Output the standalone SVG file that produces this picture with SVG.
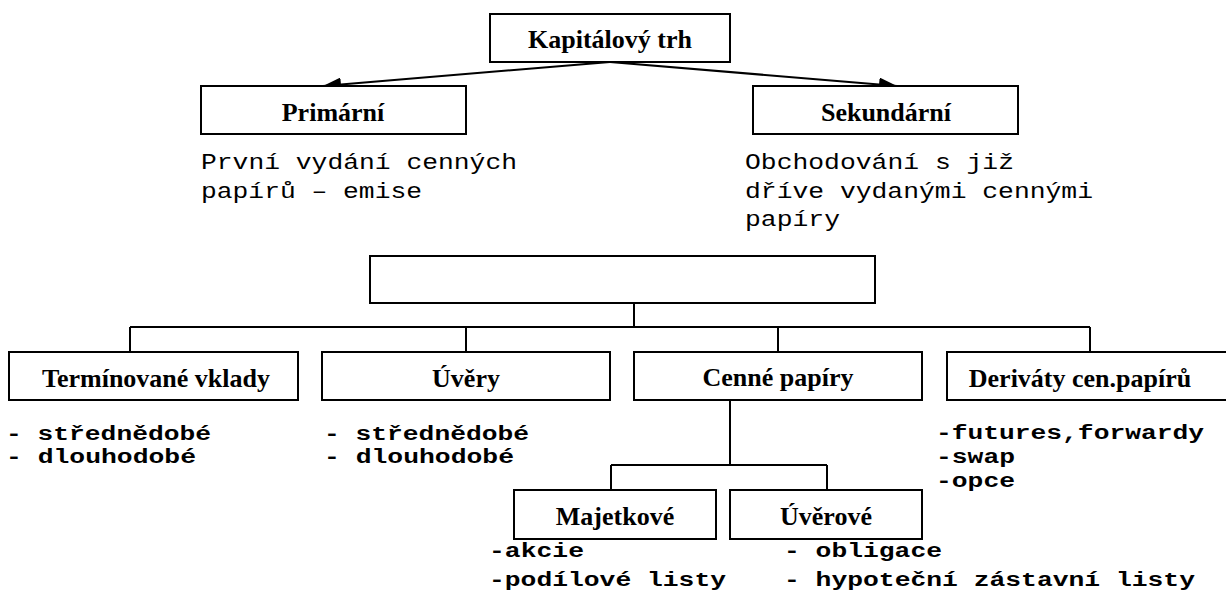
<svg xmlns="http://www.w3.org/2000/svg" width="1226" height="594" viewBox="0 0 1226 594">
<style>
.box{fill:#fff;stroke:#000;stroke-width:2}
.lbl{font-family:"Liberation Serif","Times New Roman",serif;font-weight:bold;font-size:26px;fill:#000;text-anchor:middle}
.desc{font-family:"Liberation Mono","Courier New",monospace;font-size:22px;fill:#000}
.bul{font-family:"Liberation Mono","Courier New",monospace;font-weight:bold;font-size:20px;fill:#000}
.con{fill:none;stroke:#000;stroke-width:2}
</style>
<defs>
<marker id="arr" markerUnits="userSpaceOnUse" markerWidth="20" markerHeight="14" refX="18" refY="7" orient="auto">
<path d="M0,0 L18,7 L0,14 Z" fill="#000"/>
</marker>
</defs>
<rect width="1226" height="594" fill="#fff"/>
<g id="connectors">
<line class="con" x1="610" y1="62" x2="323" y2="86" marker-end="url(#arr)"/>
<line class="con" x1="610" y1="62" x2="897" y2="86" marker-end="url(#arr)"/>
<line class="con" x1="634" y1="303" x2="634" y2="327"/>
<line class="con" x1="130" y1="327" x2="1090" y2="327"/>
<line class="con" x1="130" y1="327" x2="130" y2="352"/>
<line class="con" x1="466" y1="327" x2="466" y2="352"/>
<line class="con" x1="778" y1="327" x2="778" y2="352"/>
<line class="con" x1="1090" y1="327" x2="1090" y2="352"/>
<line class="con" x1="730" y1="400" x2="730" y2="465"/>
<line class="con" x1="611" y1="465" x2="827" y2="465"/>
<line class="con" x1="611" y1="465" x2="611" y2="490"/>
<line class="con" x1="827" y1="465" x2="827" y2="490"/>
</g>
<g id="kapitalovy">
<rect class="box" x="490" y="14" width="240" height="48"/>
<text class="lbl" x="610" y="48">Kapitálový trh</text>
</g>
<g id="primarni">
<rect class="box" x="201" y="86" width="265" height="48"/>
<text class="lbl" x="333" y="121">Primární</text>
<text class="desc" x="201" y="169" textLength="316" lengthAdjust="spacingAndGlyphs">První vydání cenných</text>
<text class="desc" x="201" y="198" textLength="221" lengthAdjust="spacingAndGlyphs">papírů – emise</text>
</g>
<g id="sekundarni">
<rect class="box" x="753" y="86" width="265" height="48"/>
<text class="lbl" x="886" y="121">Sekundární</text>
<text class="desc" x="745" y="169" textLength="269" lengthAdjust="spacingAndGlyphs">Obchodování s již</text>
<text class="desc" x="745" y="198" textLength="348" lengthAdjust="spacingAndGlyphs">dříve vydanými cennými</text>
<text class="desc" x="745" y="226" textLength="95" lengthAdjust="spacingAndGlyphs">papíry</text>
</g>
<g id="prazdny">
<rect class="box" x="370" y="256" width="505" height="47"/>
</g>
<g id="terminovane">
<rect class="box" x="9" y="352" width="289" height="48"/>
<text class="lbl" x="156" y="387">Termínované vklady</text>
<text class="bul" x="6" y="440" textLength="205" lengthAdjust="spacingAndGlyphs">- střednědobé</text>
<text class="bul" x="6" y="463" textLength="190" lengthAdjust="spacingAndGlyphs">- dlouhodobé</text>
</g>
<g id="uvery">
<rect class="box" x="322" y="352" width="288" height="48"/>
<text class="lbl" x="466" y="387">Úvěry</text>
<text class="bul" x="324" y="440" textLength="205" lengthAdjust="spacingAndGlyphs">- střednědobé</text>
<text class="bul" x="324" y="463" textLength="190" lengthAdjust="spacingAndGlyphs">- dlouhodobé</text>
</g>
<g id="cenne">
<rect class="box" x="634" y="352" width="288" height="48"/>
<text class="lbl" x="778" y="386">Cenné papíry</text>
</g>
<g id="derivaty">
<rect class="box" x="947" y="352" width="290" height="48"/>
<text class="lbl" x="1080" y="387">Deriváty cen.papírů</text>
<text class="bul" x="936" y="439" textLength="268" lengthAdjust="spacingAndGlyphs">-futures,forwardy</text>
<text class="bul" x="936" y="463" textLength="79" lengthAdjust="spacingAndGlyphs">-swap</text>
<text class="bul" x="936" y="487" textLength="79" lengthAdjust="spacingAndGlyphs">-opce</text>
</g>
<g id="majetkove">
<rect class="box" x="514" y="490" width="202" height="49"/>
<text class="lbl" x="615" y="525">Majetkové</text>
<text class="bul" x="489" y="557" textLength="95" lengthAdjust="spacingAndGlyphs">-akcie</text>
<text class="bul" x="489" y="586" textLength="237" lengthAdjust="spacingAndGlyphs">-podílové listy</text>
</g>
<g id="uverove">
<rect class="box" x="730" y="490" width="192" height="49"/>
<text class="lbl" x="826" y="525">Úvěrové</text>
<text class="bul" x="784" y="557" textLength="158" lengthAdjust="spacingAndGlyphs">- obligace</text>
<text class="bul" x="784" y="586" textLength="411" lengthAdjust="spacingAndGlyphs">- hypoteční zástavní listy</text>
</g>
</svg>
